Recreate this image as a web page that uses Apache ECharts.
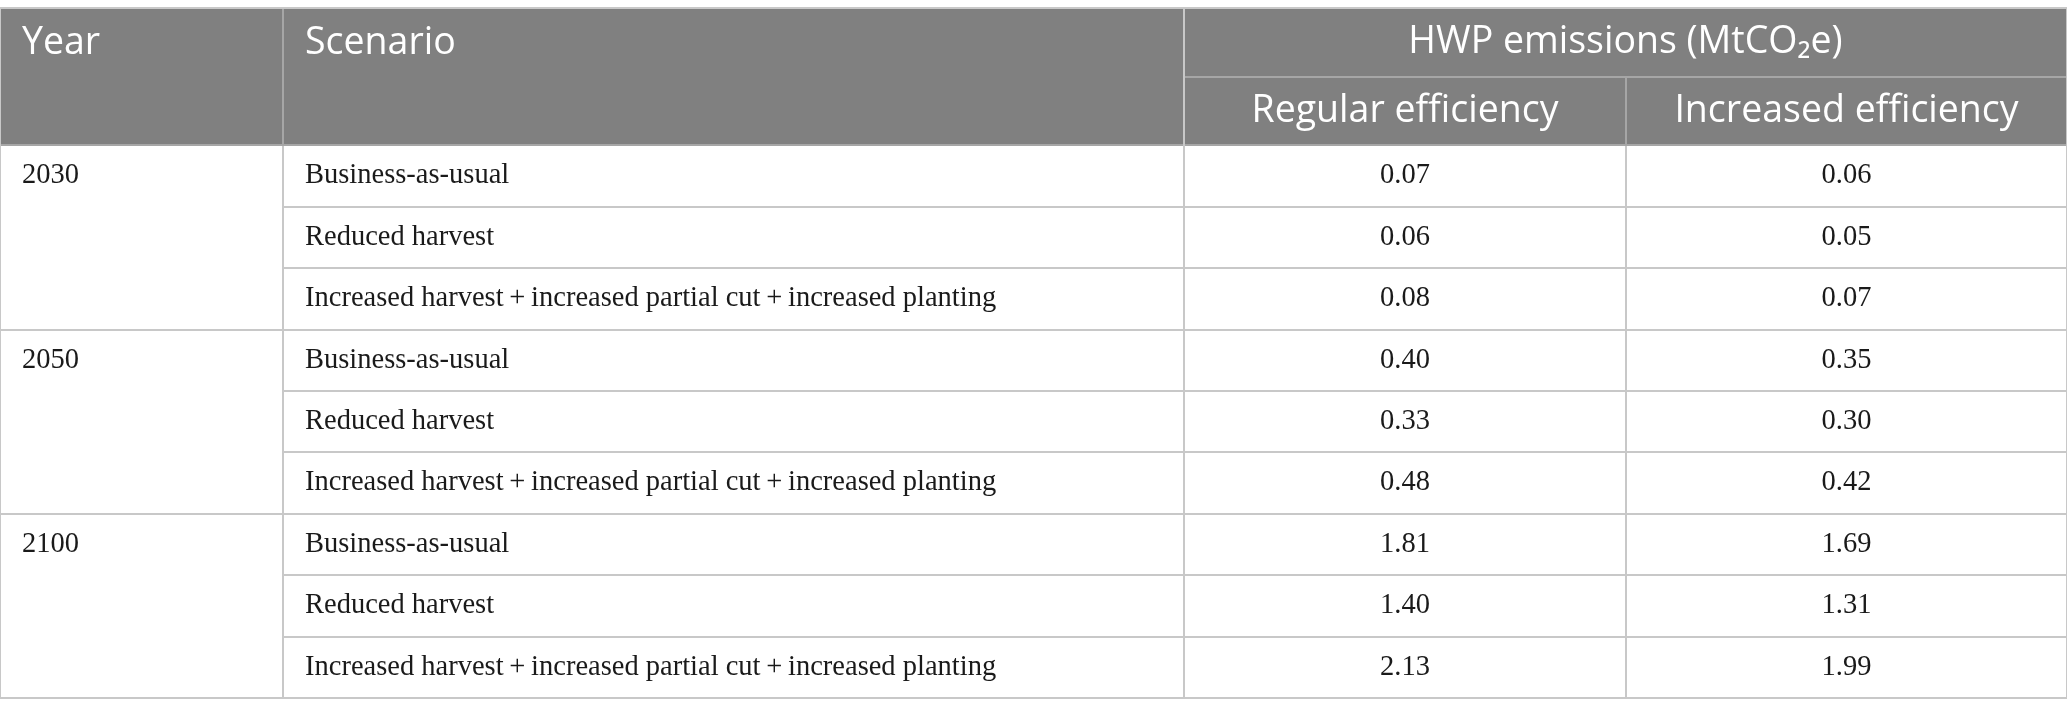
<!DOCTYPE html>
<html>
<head>
<meta charset="utf-8">
<script src="https://cdn.jsdelivr.net/npm/echarts@6/dist/echarts.min.js"></script>
<style>
html,body{margin:0;padding:0;background:#fff;}
#chart{width:2067px;height:712px;}
</style>
</head>
<body>
<div id="chart"></div>
<script>
var cornerHeaders = ['Year', 'Scenario'];
var groupHeader = 'HWP emissions (MtCO\u2082e)';
var columnHeaders = ['Regular efficiency', 'Increased efficiency'];
var years = ['2030', '2050', '2100'];
var scenarios = ['Business-as-usual', 'Reduced harvest', 'Increased harvest\u2009+\u2009increased partial cut\u2009+\u2009increased planting'];
var regularEfficiency = [0.07, 0.06, 0.08, 0.40, 0.33, 0.48, 1.81, 1.40, 2.13];
var increasedEfficiency = [0.06, 0.05, 0.07, 0.35, 0.30, 0.42, 1.69, 1.31, 1.99];

var headerFont = 'Open Sans';
var bodyFont = 'Liberation Serif';

var bodyData = [];
[regularEfficiency, increasedEfficiency].forEach(function (arr, ci) {
  arr.forEach(function (v, ri) {
    bodyData.push({ coord: [ci, ri], value: v.toFixed(2) });
  });
});

// leaf names must be unique per matrix dimension: pad repeated names with trailing spaces (invisible, left-aligned)
function uniqueLeaf(name, groupIndex) {
  return name + new Array(groupIndex + 1).join(' ');
}

var chart = echarts.init(document.getElementById('chart'), null, { renderer: 'canvas' });
chart.setOption({
  animation: false,
  matrix: {
    left: 0, right: 0, top: 8, bottom: 14,
    backgroundStyle: { color: '#fff', borderColor: '#c8c8c8', borderWidth: 2 },
    x: {
      data: [{ value: groupHeader, children: columnHeaders.slice() }],
      levels: [{ levelSize: 69 }, { levelSize: 68 }],
      label: { color: '#fff', fontFamily: headerFont, fontSize: 37.5 },
      itemStyle: { color: '#808080', borderColor: '#a6a6a6', borderWidth: 2 },
      dividerLineStyle: { color: '#a6a6a6', width: 2 }
    },
    y: {
      data: years.map(function (y, yi) {
        return { value: y, children: scenarios.map(function (s) { return uniqueLeaf(s, yi); }) };
      }),
      levels: [{ levelSize: 283 }, { levelSize: 901 }],
      label: { color: '#1a1a1a', fontFamily: bodyFont, fontSize: 28.5, position: 'insideTopLeft', distance: 0, padding: [16, 0, 0, 22], overflow: 'none' },
      itemStyle: { color: '#fff', borderColor: '#c8c8c8', borderWidth: 2 },
      dividerLineStyle: { color: '#c8c8c8', width: 2 }
    },
    corner: {
      data: [
        { coord: [-2, [-2, -1]], mergeCells: true, value: cornerHeaders[0] },
        { coord: [-1, [-2, -1]], mergeCells: true, value: cornerHeaders[1] }
      ],
      label: { color: '#fff', fontFamily: headerFont, fontSize: 37.5, position: 'insideTopLeft', distance: 0, padding: [16, 0, 0, 22] },
      itemStyle: { color: '#808080', borderColor: '#a6a6a6', borderWidth: 2 }
    },
    body: {
      data: bodyData,
      label: { color: '#1a1a1a', fontFamily: bodyFont, fontSize: 28.5 },
      itemStyle: { color: '#fff', borderColor: '#c8c8c8', borderWidth: 2 }
    }
  }
});
</script>
</body>
</html>
